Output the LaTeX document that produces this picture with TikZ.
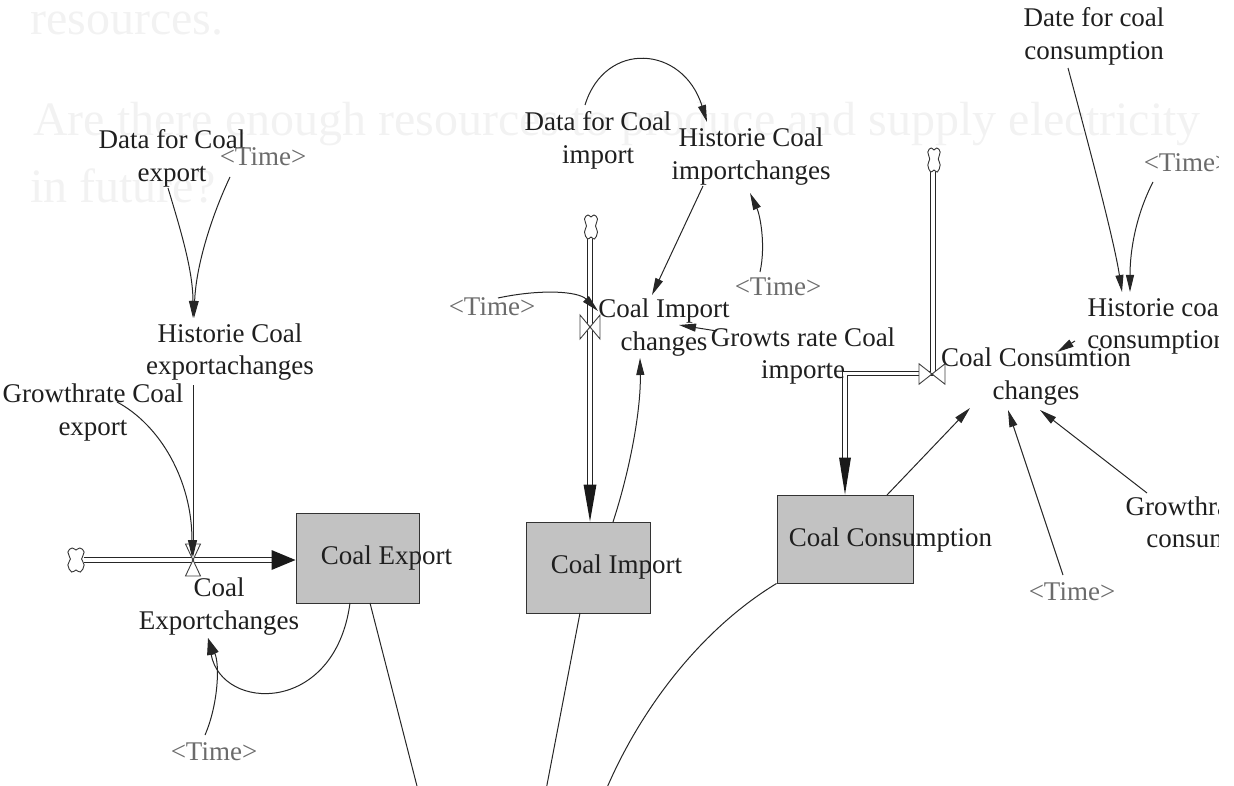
\documentclass[tikz,border=0pt]{standalone}
\usepackage{fontspec}
\setmainfont{Liberation Serif}
\usetikzlibrary{arrows.meta,calc}

\tikzset{
  % hourglass valve (on a horizontal pipe)
  valvev/.pic={
    \draw[black!75, line width=0.9pt, fill=white]
      (-7.5,-16) -- (7.5,-16) -- (-7.5,16) -- (7.5,16) -- cycle;
    \fill[black!75] (0,0) circle (1.3pt);
  },
  % bow-tie valve (on a vertical pipe)
  valveh/.pic={
    \draw[black!75, line width=0.9pt, fill=white]
      (-10,-12) -- (-10,12) -- (10,-12) -- (10,12) -- cycle;
    \fill[black!75] (0,0) circle (1.3pt);
  },
  % source cloud at the open end of a pipe
  srccloud/.pic={
    \draw[black!80, line width=0.9pt, fill=white]
      plot[smooth cycle, tension=0.8] coordinates
      {(-3,-12) (0,-10) (3,-12) (6.5,-8) (4.5,-1) (6.5,5)
       (3.5,12) (0,10) (-3.5,12) (-6.5,5) (-4.5,-1) (-6.5,-8)};
  },
}

\begin{document}
\begin{tikzpicture}[x=1pt, y=-1pt,
  lbl/.style={font=\fontsize{27}{32.5}\selectfont, text=black!88, align=center, inner sep=0pt},
  shadowvar/.style={lbl, text=black!58},
  stock/.style={draw=black!80, line width=1pt, fill=black!24, inner sep=0pt},
  link/.style={draw=black!85, line width=1pt, -{Triangle[length=17pt,width=8pt]}},
  plainlink/.style={draw=black!85, line width=1pt},
  pipe/.style={draw=black!85, line width=1.1pt, double=white, double distance=3.4pt},
  pipehead/.style={fill=black!90},
  ghost/.style={font=\fontsize{48}{56}\selectfont, text=black!5, anchor=base west, inner sep=0pt},
]
\useasboundingbox (0,0) rectangle (1234,786);
\clip (0,0) rectangle (1218,786);

% faint slide text underneath
\node[ghost] (g1) at (30,35) {resources.};
\node[ghost] (g2) at (33,136) {Are there enough resources to produce and supply electricity};
\node[ghost] (g3) at (30,203) {in future?};

% stocks
\node[stock, minimum width=123pt, minimum height=90pt] (ce) at (357.5,558) {};
\node[stock, minimum width=124pt, minimum height=91pt] (ci) at (588,567.5) {};
\node[stock, minimum width=136pt, minimum height=88pt] (cc) at (845,539) {};
\node[lbl] (ceL) at (386.5,558) {Coal Export};
\node[lbl] (ciL) at (616.5,567) {Coal Import};
\node[lbl] (ccL) at (890.5,540) {Coal Consumption};

% clouds and valves
\coordinate (cldE) at (76,560);
\coordinate (cldI) at (591,227);
\coordinate (cldC) at (934,160);
\coordinate (vE) at (193,560);
\coordinate (vI) at (590,327);
\coordinate (vC) at (932,374);

% flow pipes
\draw[pipe] ($(cldE)+(8,0)$) -- ($(ce.west)+(-23,2)$);
\fill[pipehead] ($(ce.west)+(0,2)$) -- ++(-24,-10) -- ++(0,20) -- cycle;
\draw[pipe] ($(cldI)+(-1,12)$) -- ($(ci.north)+(2,-35)$);
\fill[pipehead] ($(ci.north)+(2,0)$) -- ++(-6.5,-37) -- ++(13,0) -- cycle;
\draw[pipe] ($(cldC)+(-1,12)$) |- ($(cc.north)+(0,-121)$) -- ($(cc.north)+(0,-36)$);
\fill[pipehead] (cc.north) -- ++(-6,-37) -- ++(12,0) -- cycle;

\pic at (cldE) [xscale=1.25] {srccloud};
\pic at (cldI) {srccloud};
\pic at (cldC) [xscale=0.95] {srccloud};
\pic at (vE) {valvev};
\pic at (vI) {valveh};
\pic at (vC) [xscale=1.3, yscale=0.85] {valveh};

% variables
\node[lbl] (dce) at (172,158.5) {Data for Coal\\export};
\node[shadowvar] (tA) at (263,157) {<Time>};
\node[lbl] (hce) at (230,352) {Historie Coal\\exportachanges};
\node[lbl] (gce) at (93,412.5) {Growthrate Coal\\export};
\node[lbl] (cec) at (219,606.5) {Coal\\Exportchanges};
\node[shadowvar] (tB) at (214,752) {<Time>};
\node[lbl] (dci) at (598,140.5) {Data for Coal\\import};
\node[lbl] (hci) at (751,156.5) {Historie Coal\\importchanges};
\node[shadowvar] (tC) at (492,307) {<Time>};
\node[lbl] (cic) at (664,327.5) {Coal Import\\changes};
\node[shadowvar] (tD) at (778,287) {<Time>};
\node[lbl] (grc) at (803,356) {Growts rate Coal\\importe};
\node[lbl] (dcc) at (1094,36.5) {Date for coal\\consumption};
\node[shadowvar] (tE) at (1187,163) {<Time>};
\node[lbl] (hcc) at (1157,326) {Historie coal\\consumption};
\node[lbl] (ccc) at (1036,376.5) {Coal Consumtion\\changes};
\node[shadowvar] (tF) at (1072,592) {<Time>};
\node[lbl] (grcc) at (1216,525) {Growthrate Coal\\consumption};

% information links: export
\draw[link] ($(dce)+(-4,29.5)$) .. controls (180,228) and (193,270) .. ($(hce)+(-37,-34)$);
\draw[link] ($(tA)+(-33,20)$) .. controls (212,215) and (196,265) .. ($(hce)+(-36,-34)$);
\draw[link] ($(hce)+(-37,33)$) -- ($(vE)+(0,-3)$);
\draw[link] ($(gce)+(24,-10.5)$) .. controls (160,425) and (192,480) .. ($(vE)+(-1,-3)$);
\draw[link] ($(ce)+(-7.5,45)$) .. controls (335,715) and (222,712) .. ($(cec)+(-11,31.5)$);
\draw[link] ($(tB)+(-9,-17)$) .. controls (218,705) and (220,665) .. ($(cec)+(-11,31.5)$);

% information links: import
\draw[link] ($(dci)+(-13,-35.5)$) .. controls (605,40) and (683,45) .. ($(hci)+(-44,-34.5)$);
\draw[link] ($(hci)+(-48,29.5)$) -- ($(cic)+(-12,-32.5)$);
\draw[link] ($(tD)+(-18,-15)$) .. controls (766,245) and (760,215) .. ($(hci)+(-1,36.5)$);
\draw[link] ($(tC)+(6,-9)$) .. controls (540,289) and (578,291) .. ($(cic)+(-66,-16.5)$);
\draw[link] ($(grc)+(-86,-25)$) -- ($(cic)+(15,-2.5)$);
\draw[link] ($(ci)+(25,-45.5)$) .. controls (630,470) and (641,410) .. ($(cic)+(-24,30.5)$);

% information links: consumption
\draw[link] ($(dcc)+(-26,31.5)$) .. controls (1090,150) and (1114,240) .. ($(hcc)+(-35,-34)$);
\draw[link] ($(tE)+(-34,19)$) .. controls (1136,215) and (1130,250) .. ($(hcc)+(-27,-34)$);
\draw[link] ($(hcc)+(-82,15)$) -- ($(ccc)+(21,-24.5)$);
\draw[link] ($(cc)+(42,-44)$) -- ($(ccc)+(-66,31.5)$);
\draw[link] ($(tF)+(-9,-17)$) -- ($(ccc)+(-28,33.5)$);
\draw[link] ($(grcc)+(-69,-32)$) -- ($(ccc)+(4,33.5)$);

% links leaving the view at the bottom
\coordinate (outE) at (418,790);
\coordinate (outI) at (546,790);
\coordinate (outC) at (606,790);
\draw[plainlink] ($(ce)+(12.5,45)$) -- (outE);
\draw[plainlink] ($(ci)+(-8,45.5)$) -- (outI);
\draw[plainlink] (cc.south west) .. controls (700,630) and (640,710) .. (outC);
\end{tikzpicture}
\end{document}
